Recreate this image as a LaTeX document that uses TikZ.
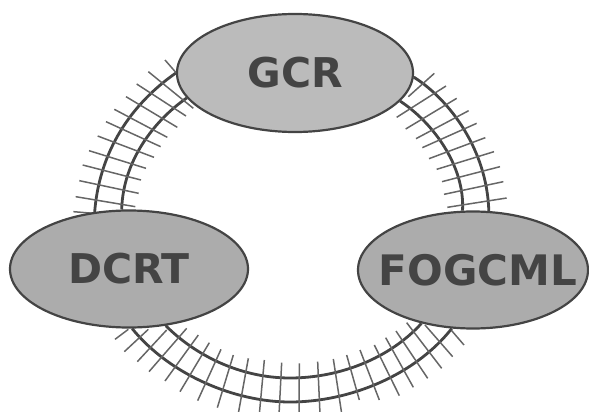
\documentclass[tikz,border=0pt]{standalone}
\usepackage{fontspec}
\setmainfont{DejaVu Sans}
\usetikzlibrary{shapes.geometric,backgrounds}
\definecolor{inkd}{HTML}{444444}
\definecolor{tickc}{HTML}{666666}
\definecolor{fillA}{HTML}{BBBBBB}
\definecolor{fillB}{HTML}{ACACAC}
\tikzset{
  blob/.style={shape=ellipse,draw=inkd,line width=2.2pt,inner sep=0pt,fill=#1,text=inkd,font=\fontsize{41pt}{41pt}\selectfont\bfseries},
  rail/.style={draw=inkd,line width=2.8pt},
  tie/.style={draw=tickc,line width=1.5pt}
}
\begin{document}
\begin{tikzpicture}[x=1pt,y=-1pt]
\useasboundingbox (0,0) rectangle (589,412);
\node[blob=fillA,minimum width=236pt,minimum height=118pt] (gcr) at (295,73) {GCR};
\node[blob=fillB,minimum width=238pt,minimum height=117pt] (dcrt) at (129,269) {DCRT};
\node[blob=fillB,minimum width=230pt,minimum height=117pt] (fog) at (473,270) {};
\node[text=inkd,font=\fontsize{42pt}{42pt}\selectfont\bfseries] (fogt) at (478,270) {FOGCML};
\coordinate (lowouter) at (290,402);
\coordinate (lowinner) at (290,378);
\begin{scope}[on background layer]
\draw[rail] (gcr.180) .. controls (137,100) and (100,145) .. (dcrt.121);
\draw[rail] (gcr.193) .. controls (155,120) and (123,160) .. (dcrt.97);
\draw[rail] (gcr.358) .. controls (450,100) and (487,150) .. (fog.75);
\draw[rail] (gcr.345) .. controls (432,122) and (465,165) .. (fog.100);
\draw[rail] (dcrt.273) .. controls (170,375) and (235,402) .. (lowouter) .. controls (350,402) and (415,375) .. (fog.250);
\draw[rail] (dcrt.303) .. controls (195,355) and (240,378) .. (lowinner) .. controls (340,378) and (390,358) .. (fog.226);
\foreach \a/\b/\c/\d in {315/0/350/40,265/35/400/145,230/72/378/168,198/110/352/202,163/148/322/232,138/185/302/260,113/228/282/292,87/272/258/325,68/315/243/360,58/362/236/400,47/410/226/440,40/455/100/460}
  \draw[tie] ({60+\a/3},{60+\b/3}) -- ({60+\c/3},{60+\d/3});
\foreach \a/\b/\c/\d in {85/110/163/40,50/172/198/78,77/207/230/115,108/236/266/152,127/263/290/190,147/296/316/233,170/328/342/275,186/365/360/320,192/403/370/365,202/442/380/414}
  \draw[tie] ({380+\a/3},{60+\b/3}) -- ({380+\c/3},{60+\d/3});
\foreach \a/\b/\c/\d in {45/88/85/58,73/125/145/58,112/155/200/60,147/185/260/55,195/213/295/75,240/245/328/98,293/272/363/118,352/293/400/135,415/310/445/145,478/312/493/150,537/315/545/158,597/315/598/160,660/312/653/155,725/310/700/147}
  \draw[tie] ({100+\a/3},{310+\b/3}) -- ({100+\c/3},{310+\d/3});
\foreach \a/\b/\c/\d in {20/165/58/300,60/150/118/300,103/135/178/287,137/113/220/262,168/93/263/235,200/68/305/205,255/75/338/170,335/92/372/135}
  \draw[tie] ({340+\a/3},{300+\b/3}) -- ({340+\c/3},{300+\d/3});
\end{scope}
\end{tikzpicture}
\end{document}
